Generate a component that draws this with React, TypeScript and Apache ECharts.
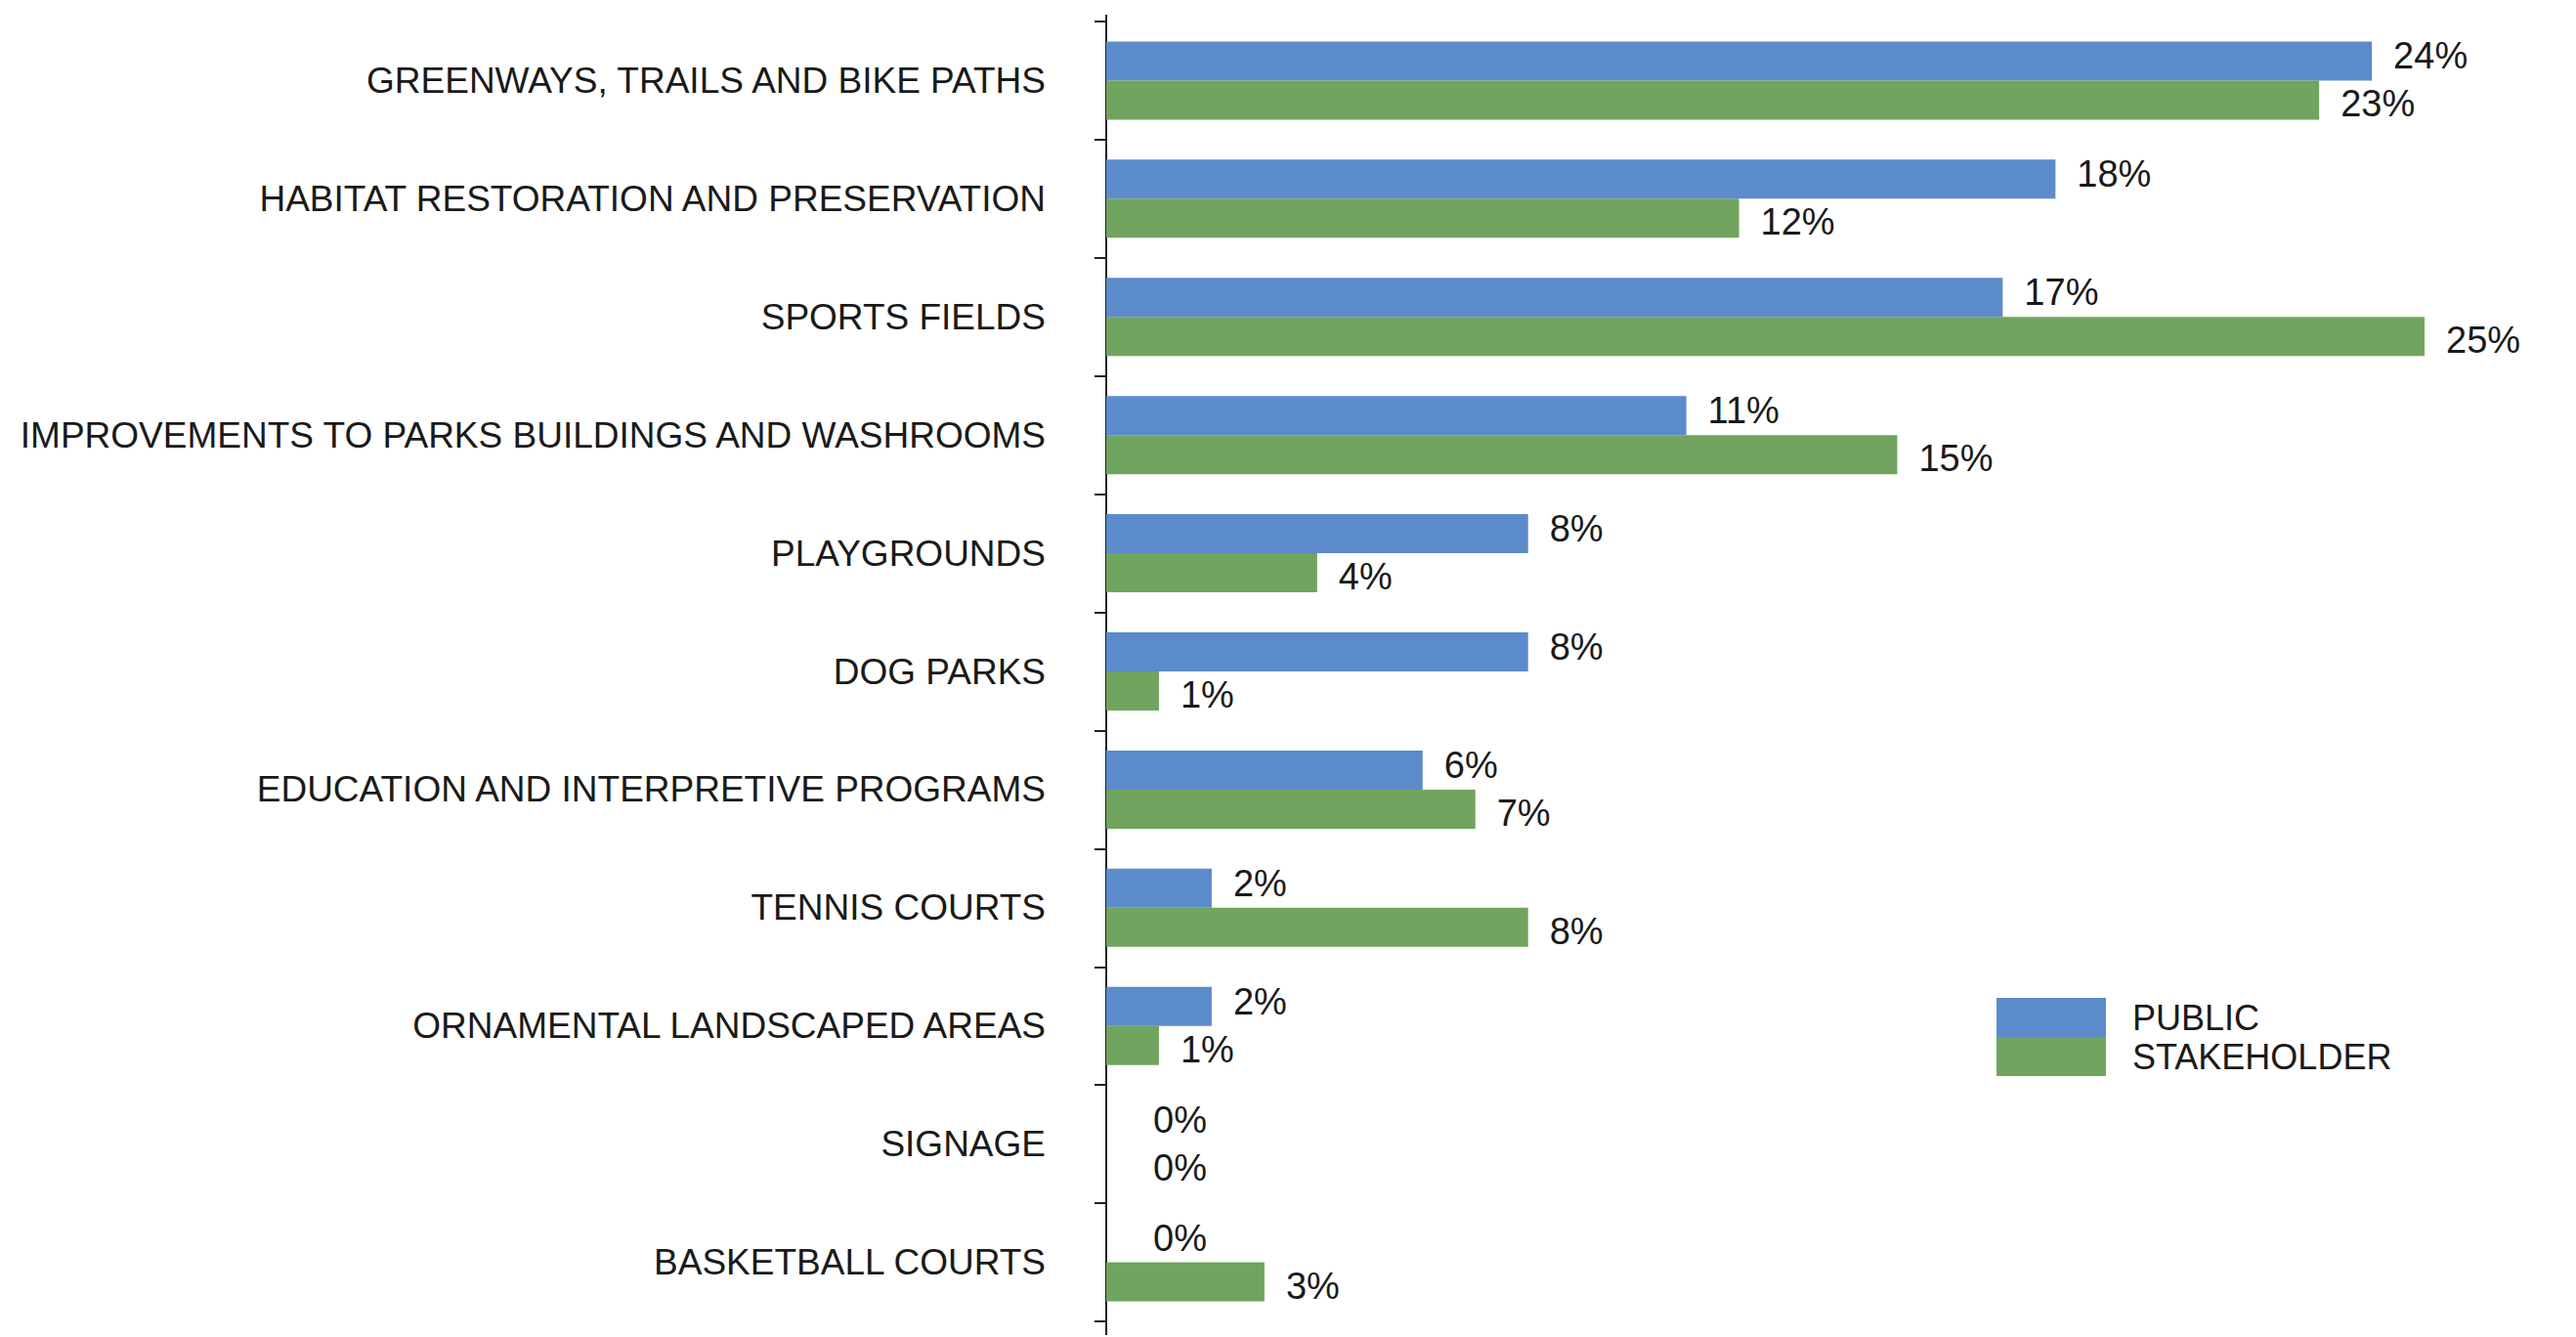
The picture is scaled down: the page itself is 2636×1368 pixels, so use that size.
import React, { useEffect, useRef } from "react";
import * as echarts from "echarts";

const categories = [
  "GREENWAYS, TRAILS AND BIKE PATHS",
  "HABITAT RESTORATION AND PRESERVATION",
  "SPORTS FIELDS",
  "IMPROVEMENTS TO PARKS BUILDINGS AND WASHROOMS",
  "PLAYGROUNDS",
  "DOG PARKS",
  "EDUCATION AND INTERPRETIVE PROGRAMS",
  "TENNIS COURTS",
  "ORNAMENTAL LANDSCAPED AREAS",
  "SIGNAGE",
  "BASKETBALL COURTS",
];

const publicValues = [24, 18, 17, 11, 8, 8, 6, 2, 2, 0, 0];
const stakeholderValues = [23, 12, 25, 15, 4, 1, 7, 8, 1, 0, 3];

const seriesNames = ["PUBLIC", "STAKEHOLDER"];
const BLUE = "#5B8BCB";
const GREEN = "#71A45F";
const FONT = "'Liberation Sans', Arial, Helvetica, sans-serif";
const TEXT = "#1a1a1a";

export default function App() {
  const ref = useRef<HTMLDivElement>(null);

  useEffect(() => {
    if (!ref.current) return;
    const chart = echarts.init(ref.current, undefined, { renderer: "svg" });

    const labelBase = {
      show: true,
      position: "right",
      distance: 22,
      fontSize: 38,
      fontFamily: FONT,
      color: TEXT,
      formatter: (p: any) => `${p.value}%`,
    };

    const toData = (vals: number[]) =>
      vals.map((v) => (v === 0 ? { value: v, label: { distance: 48 } } : v));

    chart.setOption({
      animation: false,
      backgroundColor: "#ffffff",
      textStyle: { fontFamily: FONT },
      grid: { left: 1132, right: 47, top: 22, bottom: 16, containLabel: false },
      xAxis: {
        type: "value",
        min: 0,
        max: 27,
        show: false,
        splitLine: { show: false },
      },
      yAxis: {
        type: "category",
        data: categories,
        inverse: true,
        axisLine: { show: true, lineStyle: { color: "#222", width: 2 } },
        axisTick: { show: true, length: 12, lineStyle: { color: "#222", width: 2 } },
        axisLabel: {
          margin: 62,
          fontSize: 37,
          fontFamily: FONT,
          color: TEXT,
        },
        splitLine: { show: false },
      },
      graphic: [
        {
          type: "line",
          shape: { x1: 1132, y1: 15, x2: 1132, y2: 1366 },
          style: { stroke: "#222", lineWidth: 2 },
          silent: true,
        },
      ],
      legend: {
        orient: "vertical",
        left: 2038,
        top: 1016,
        itemWidth: 112,
        itemHeight: 40,
        itemGap: 0,
        icon: "rect",
        data: seriesNames,
        textStyle: {
          fontSize: 36,
          fontFamily: FONT,
          color: TEXT,
          padding: [0, 0, 0, 22],
        },
      },
      series: [
        {
          name: seriesNames[0],
          type: "bar",
          data: toData(publicValues),
          barWidth: 40,
          barGap: "0%",
          itemStyle: { color: BLUE },
          label: { ...labelBase, offset: [0, -5] },
        },
        {
          name: seriesNames[1],
          type: "bar",
          data: toData(stakeholderValues),
          barWidth: 40,
          barGap: "0%",
          itemStyle: { color: GREEN },
          label: { ...labelBase, offset: [0, 4] },
        },
      ],
    });

    return () => chart.dispose();
  }, []);

  return (
    <div
      ref={ref}
      style={{ position: "absolute", left: 0, top: 0, width: 2636, height: 1368 }}
    />
  );
}
